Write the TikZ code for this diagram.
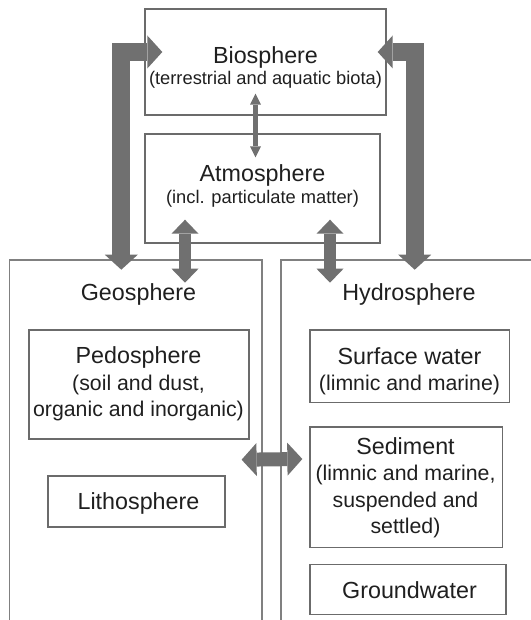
\documentclass[tikz,border=0pt]{standalone}
\usepackage{fontspec}
\setmainfont{Liberation Sans}
\usetikzlibrary{arrows.meta, calc, positioning}

\definecolor{boxgray}{gray}{0.42}
\definecolor{framegray}{gray}{0.5}
\definecolor{arrowgray}{gray}{0.44}
\definecolor{inkgray}{gray}{0.12}

\newcommand{\bigtitle}{\fontsize{23.3}{26.5}\selectfont}

\begin{document}
\begin{tikzpicture}[x=1pt, y=-1pt,
    box/.style={draw=boxgray, line width=1.4pt, inner sep=0pt},
    toptext/.style={font=\fontsize{18.3}{21.5}\selectfont, text=inkgray, align=center, inner sep=0pt},
    lowtext/.style={font=\fontsize{21.3}{26.5}\selectfont, text=inkgray, align=center, inner sep=0pt},
    bigarrow/.style={line width=18pt, draw=arrowgray, line join=miter,
        {Triangle[length=15pt, width=33pt, line width=0pt]}-{Triangle[length=15pt, width=33pt, line width=0pt]}},
    midarrow/.style={line width=12pt, draw=arrowgray,
        {Triangle[length=14pt, width=27pt, line width=0pt]}-{Triangle[length=14pt, width=27pt, line width=0pt]}},
    sidearrow/.style={line width=14pt, draw=arrowgray,
        {Triangle[length=15pt, width=33pt, line width=0pt]}-{Triangle[length=15pt, width=33pt, line width=0pt]}},
    thinarrow/.style={line width=5pt, draw=arrowgray,
        {Triangle[length=11pt, width=11pt, line width=0pt]}-{Triangle[length=11pt, width=11pt, line width=0pt]}}]

    % Fix the page to the size of the figure
    \useasboundingbox (0,0) rectangle (530,620);

    % Upper boxes
    \node[box, minimum width=241pt, minimum height=106pt] (bio) at (265.5,62) {};
    \node[box, minimum width=235pt, minimum height=109pt] (atm) at (262.5,188.5) {};
    \node[toptext] (biotxt) at (265.5,67.5) {{\bigtitle Biosphere}\\(terrestrial and aquatic biota)};
    \node[toptext] (atmtxt) at (262.5,185.8) {{\bigtitle Atmosphere}\\(incl. particulate matter)};

    % Geosphere and hydrosphere run off the bottom of the page
    \draw[draw=framegray, line width=1.4pt] (9.5,620) |- (262,260) -- (262,620);
    \draw[draw=framegray, line width=1.4pt] (281,620) |- (531,260);
    \node[lowtext, font=\bigtitle] (geotxt) at (138.5,294.3) {Geosphere};
    \node[lowtext, font=\bigtitle] (hydtxt) at (409,294.3) {Hydrosphere};

    % Compartments of the geosphere
    \node[box, minimum width=220pt, minimum height=109pt] (pedo) at (138.9,384.5) {};
    \node[box, minimum width=177pt, minimum height=51pt] (litho) at (136.5,501.5) {};
    \node[lowtext] (pedotxt) at (138.5,384) {{\bigtitle Pedosphere}\\(soil and dust,\\organic and inorganic)};
    \node[lowtext, font=\bigtitle] (lithotxt) at (138.5,503.5) {Lithosphere};

    % Compartments of the hydrosphere
    \node[box, minimum width=199.5pt, minimum height=72.6pt] (surf) at (409.8,366.3) {};
    \node[box, minimum width=192.7pt, minimum height=120.6pt] (sed) at (406.4,487.3) {};
    \node[box, minimum width=196pt, minimum height=50pt] (ground) at (408,589.5) {};
    \node[lowtext] (surftxt) at (409.5,371.5) {{\bigtitle Surface water}\\(limnic and marine)};
    \node[lowtext] (sedtxt) at (405.5,488) {{\bigtitle Sediment}\\(limnic and marine,\\suspended and\\settled)};
    \node[lowtext, font=\bigtitle] (groundtxt) at (409.5,590) {Groundwater};

    % Exchange arrows
    \draw[thinarrow] ($(bio.south)+(-10,-22)$) -- ($(atm.north)+(-7,24)$);
    \draw[midarrow] ($(atm.south)+(-77.5,-24)$) -- ($(atm.south)+(-77.5,39)$);
    \draw[midarrow] ($(atm.south)+(67.5,-24)$) -- ($(atm.south)+(67.5,39)$);
    \draw[sidearrow] ($(pedo.south east)+(-8,20)$) -- ($(sed.west)+(-7,-28.3)$);
    \draw[bigarrow] ($(atm.south west)+(-23,26)$) |- ($(bio.west)+(18,-10)$);
    \draw[bigarrow] ($(atm.south east)+(34,26)$) |- ($(bio.east)+(-9,-10)$);
\end{tikzpicture}
\end{document}
